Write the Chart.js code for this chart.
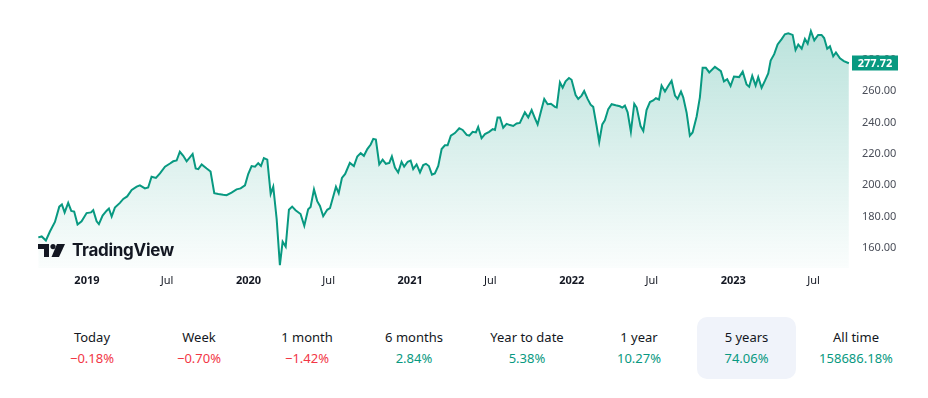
<!DOCTYPE html>
<html>
<head>
<meta charset="utf-8">
<script src="https://cdn.jsdelivr.net/npm/chart.js@4.4.0/dist/chart.umd.min.js"></script>
<style>
  body { margin: 0; background: #fff; font-family: 'Noto Sans', sans-serif; }
  #wrap { position: relative; width: 928px; height: 398px; overflow: hidden; }
  #priceChart { position: absolute; left: 0; top: 0; }
  .logo { position: absolute; left: 38px; top: 240px; height: 20px; display: flex; align-items: center; }
  .logo svg { margin-right: 7px; }
  .logo span { font-family: Inter, sans-serif; font-weight: 700; font-size: 17px; color: #131722; letter-spacing: -0.3px; }
  .stat { position: absolute; top: 317px; width: 99px; height: 62px; text-align: center; border-radius: 10px; }
  .stat.active { background: #f0f3fa; }
  .stat .label { position: absolute; left: -10px; right: -10px; top: 11px; font-size: 13px; color: #131722; white-space: nowrap; }
  .stat .value { position: absolute; left: -10px; right: -10px; top: 32px; font-size: 13px; white-space: nowrap; }
  .up { color: #089981; }
  .down { color: #f23645; }
</style>
</head>
<body>
<div id="wrap">
  <canvas id="priceChart" width="928" height="300"></canvas>
  <div class="logo">
    <svg width="27" height="13" viewBox="0 0 27 13">
      <path d="M0 0 H11 V13 H6 V5 H0 Z" fill="#131722"/>
      <circle cx="15" cy="2.6" r="2.6" fill="#131722"/>
      <path d="M19 0 H27 L21 13 H13.5 Z" fill="#131722"/>
    </svg>
    <span>TradingView</span>
  </div>
  <div id="stats"></div>
</div>
<script>
// Weekly closes, Sep 2018 - Sep 2023 (x = decimal year)
const dates = [
  2018.699, 2018.720, 2018.746, 2018.771, 2018.802, 2018.829, 2018.845, 2018.862, 2018.884, 2018.903,
  2018.921, 2018.942, 2018.967, 2018.998, 2019.025, 2019.039, 2019.060, 2019.074, 2019.097, 2019.122,
  2019.136, 2019.153, 2019.173, 2019.204, 2019.225, 2019.249, 2019.277, 2019.308, 2019.328, 2019.359,
  2019.379, 2019.400, 2019.427, 2019.452, 2019.483, 2019.514, 2019.534, 2019.555, 2019.575, 2019.596,
  2019.617, 2019.654, 2019.673, 2019.689, 2019.710, 2019.741, 2019.765, 2019.788, 2019.813, 2019.843,
  2019.864, 2019.895, 2019.926, 2019.951, 2019.978, 2019.998, 2020.019, 2020.040, 2020.060, 2020.077,
  2020.095, 2020.116, 2020.137, 2020.153, 2020.174, 2020.194, 2020.211, 2020.230, 2020.250, 2020.270,
  2020.291, 2020.322, 2020.345, 2020.369, 2020.384, 2020.405, 2020.425, 2020.442, 2020.462, 2020.487,
  2020.504, 2020.541, 2020.558, 2020.578, 2020.598, 2020.627, 2020.652, 2020.673, 2020.694, 2020.714,
  2020.735, 2020.756, 2020.772, 2020.788, 2020.809, 2020.830, 2020.850, 2020.871, 2020.887, 2020.906,
  2020.926, 2020.947, 2020.963, 2020.985, 2021.003, 2021.019, 2021.040, 2021.061, 2021.081, 2021.098,
  2021.116, 2021.135, 2021.153, 2021.174, 2021.195, 2021.215, 2021.232, 2021.252, 2021.277, 2021.304,
  2021.325, 2021.350, 2021.366, 2021.387, 2021.407, 2021.421, 2021.442, 2021.463, 2021.489, 2021.511,
  2021.525, 2021.541, 2021.556, 2021.576, 2021.597, 2021.618, 2021.638, 2021.659, 2021.679, 2021.710,
  2021.731, 2021.752, 2021.772, 2021.789, 2021.809, 2021.830, 2021.851, 2021.871, 2021.896, 2021.907,
  2021.927, 2021.944, 2021.962, 2021.983, 2021.999, 2022.024, 2022.040, 2022.061, 2022.077, 2022.098,
  2022.117, 2022.133, 2022.154, 2022.170, 2022.189, 2022.205, 2022.226, 2022.247, 2022.272, 2022.298,
  2022.313, 2022.329, 2022.346, 2022.366, 2022.387, 2022.402, 2022.426, 2022.443, 2022.463, 2022.484,
  2022.504, 2022.521, 2022.540, 2022.556, 2022.577, 2022.597, 2022.618, 2022.639, 2022.655, 2022.676,
  2022.690, 2022.711, 2022.731, 2022.748, 2022.773, 2022.793, 2022.810, 2022.830, 2022.851, 2022.886,
  2022.923, 2022.942, 2022.962, 2022.983, 2023.004, 2023.036, 2023.058, 2023.082, 2023.098, 2023.117,
  2023.138, 2023.154, 2023.175, 2023.196, 2023.216, 2023.231, 2023.253, 2023.274, 2023.299, 2023.319,
  2023.340, 2023.367, 2023.385, 2023.402, 2023.423, 2023.443, 2023.460, 2023.480, 2023.501, 2023.525,
  2023.546, 2023.562, 2023.581, 2023.598, 2023.618, 2023.635, 2023.660, 2023.684, 2023.715
];
const prices = [
  166.7, 167.3, 164.7, 170.4, 176.5, 186.3, 187.7, 182.6, 188.7, 183.6,
  183.2, 174.9, 176.9, 182.2, 182.6, 184.0, 176.9, 175.1, 180.6, 183.7,
  185.1, 180.0, 185.7, 188.7, 191.2, 192.8, 196.9, 199.0, 199.9, 197.9,
  198.5, 205.4, 204.6, 207.5, 211.8, 213.8, 215.2, 215.7, 221.3, 218.7,
  215.2, 219.9, 210.6, 210.2, 213.2, 210.6, 208.7, 194.9, 194.3, 193.8,
  193.6, 195.3, 197.3, 197.9, 199.9, 207.1, 212.2, 211.8, 214.0, 212.2,
  217.3, 216.3, 194.4, 199.0, 178.5, 149.0, 163.9, 160.8, 184.3, 186.3,
  184.0, 181.6, 174.1, 184.6, 186.1, 197.3, 189.8, 186.7, 180.2, 184.3,
  185.3, 199.0, 194.9, 204.6, 207.1, 214.2, 212.2, 218.3, 220.4, 218.7,
  223.0, 225.9, 229.5, 229.1, 213.2, 216.3, 213.6, 214.2, 218.3, 211.2,
  208.1, 214.9, 211.8, 214.9, 215.7, 210.2, 213.2, 208.1, 212.8, 213.6,
  212.2, 206.7, 207.5, 212.2, 223.0, 225.4, 225.4, 231.6, 233.2, 236.3,
  235.2, 232.0, 231.6, 234.0, 233.6, 237.1, 229.9, 232.6, 234.0, 235.7,
  235.2, 243.2, 243.2, 236.6, 239.1, 238.3, 237.7, 239.3, 239.7, 246.4,
  243.2, 247.9, 242.8, 238.7, 246.8, 255.0, 251.6, 251.9, 249.9, 249.5,
  265.6, 262.1, 266.2, 268.3, 267.2, 257.4, 255.0, 257.1, 260.0, 255.0,
  251.3, 249.9, 237.7, 227.5, 238.7, 241.3, 248.5, 251.6, 250.9, 250.3,
  249.5, 250.7, 246.4, 234.0, 251.9, 249.5, 237.7, 234.6, 247.9, 253.0,
  254.0, 255.4, 254.6, 263.5, 259.7, 263.2, 266.6, 257.1, 255.0, 259.7,
  256.0, 246.2, 231.6, 233.6, 243.8, 256.0, 274.8, 274.8, 271.9, 275.4,
  272.7, 266.2, 267.6, 263.2, 269.3, 268.9, 272.4, 264.2, 262.8, 269.7,
  263.5, 268.9, 262.1, 266.6, 271.3, 279.4, 283.5, 289.7, 293.1, 296.2,
  296.8, 295.8, 286.2, 289.7, 287.0, 293.3, 290.3, 298.2, 292.3, 295.8,
  295.8, 293.8, 287.0, 288.6, 282.1, 284.6, 280.9, 279.1, 277.72
];

const priceTicks = [160, 180, 200, 220, 240, 260, 280];
const xTickValues = [2019, 2019.496, 2020, 2020.496, 2021, 2021.496, 2022, 2022.496, 2023, 2023.496];

const periods = ['Today', 'Week', '1 month', '6 months', 'Year to date', '1 year', '5 years', 'All time'];
const changes = [-0.18, -0.70, -1.42, 2.84, 5.38, 10.27, 74.06, 158686.18];
const activePeriod = '5 years';

const GREEN = '#089981';
const RED = '#f23645';
const FONT = "'Noto Sans', sans-serif";

// column centres of the stats row, in px
const statCenters = [92, 199, 307, 414, 527, 639, 746.5, 856];

// Stats row under the chart
function buildStats() {
    const box = document.getElementById('stats');
    periods.forEach((name, i) => {
        const el = document.createElement('div');
        el.className = 'stat' + (name === activePeriod ? ' active' : '');
        el.style.left = (statCenters[i] - 49.5) + 'px';
        const v = changes[i];
        el.innerHTML = `
            <div class="label">${name}</div>
            <div class="value ${v < 0 ? 'down' : 'up'}">${v < 0 ? '\u2212' : ''}${Math.abs(v).toFixed(2)}%</div>
        `;
        box.appendChild(el);
    });
}

// Last price badge on the price scale
const lastPriceLabel = {
    id: 'lastPriceLabel',
    afterDraw(chart) {
        const meta = chart.getDatasetMeta(0);
        const last = meta.data[meta.data.length - 1];
        const y = Math.round(last.y);
        const ctx = chart.ctx;
        ctx.save();
        ctx.fillStyle = GREEN;
        ctx.fillRect(852, y - 7.5, 46, 15);
        ctx.fillStyle = '#fff';
        ctx.font = `bold 11px ${FONT}`;
        ctx.textAlign = 'center';
        ctx.textBaseline = 'middle';
        ctx.fillText(prices[prices.length - 1].toFixed(2), 875, y + 0.5);
        ctx.restore();
    }
};

function isYear(v) {
    return Math.abs(v - Math.round(v)) < 0.01;
}

function createPriceChart() {
    const ctx = document.getElementById('priceChart').getContext('2d');
    new Chart(ctx, {
        type: 'line',
        data: {
            datasets: [{
                data: dates.map((d, i) => ({ x: d, y: prices[i] })),
                borderColor: GREEN,
                borderWidth: 2,
                pointRadius: 0,
                tension: 0,
                fill: 'start',
                backgroundColor: (c) => {
                    const area = c.chart.chartArea;
                    if (!area) return 'rgba(8,153,129,0.15)';
                    const g = c.chart.ctx.createLinearGradient(0, area.top + 10, 0, area.bottom);
                    g.addColorStop(0, 'rgba(8,153,129,0.28)');
                    g.addColorStop(1, 'rgba(8,153,129,0.02)');
                    return g;
                }
            }]
        },
        options: {
            responsive: false,
            animation: false,
            devicePixelRatio: 1,
            layout: { padding: { left: 37, top: 8, right: 0, bottom: 0 } },
            plugins: { legend: { display: false }, tooltip: { enabled: false } },
            scales: {
                x: {
                    type: 'linear',
                    min: 2018.691,
                    max: 2023.722,
                    grid: { display: false, drawTicks: false },
                    border: { display: false },
                    afterBuildTicks: (axis) => { axis.ticks = xTickValues.map(v => ({ value: v })); },
                    afterFit: (axis) => { axis.height = 32; },
                    ticks: {
                        padding: 6,
                        maxRotation: 0,
                        autoSkip: false,
                        color: '#131722',
                        font: (c) => ({ family: FONT, size: 11, weight: c.tick && isYear(c.tick.value) ? 'bold' : 'normal' }),
                        callback: (v) => isYear(v) ? String(Math.round(v)) : 'Jul'
                    }
                },
                y: {
                    position: 'right',
                    min: 147.16,
                    max: 306.2,
                    grid: { display: false, drawTicks: false },
                    border: { display: false },
                    afterBuildTicks: (axis) => { axis.ticks = priceTicks.map(v => ({ value: v })); },
                    afterFit: (axis) => { axis.width = 78; },
                    ticks: {
                        padding: 12,
                        color: '#4a4e59',
                        font: { family: FONT, size: 11 },
                        callback: (v) => v.toFixed(2)
                    }
                }
            }
        },
        plugins: [lastPriceLabel]
    });
}

buildStats();
createPriceChart();
</script>
</body>
</html>
